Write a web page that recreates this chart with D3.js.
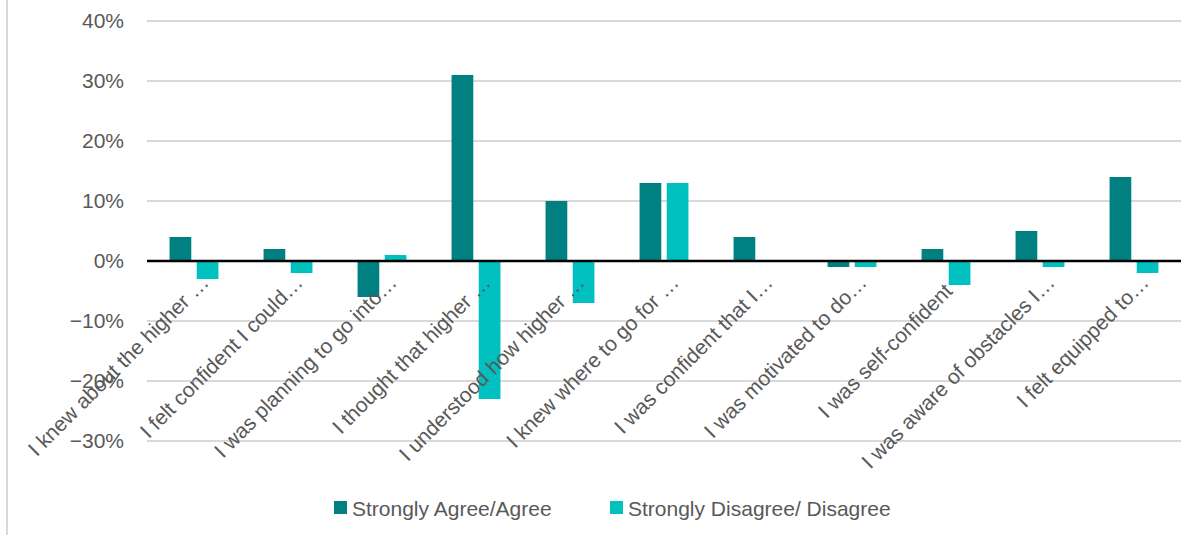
<!DOCTYPE html>
<html>
<head>
<meta charset="utf-8">
<script src="https://cdn.jsdelivr.net/npm/d3@7"></script>
<style>
    body { margin: 0; background: #fff; }
    svg { display: block; font-family: "Liberation Sans", Arial, sans-serif; }
</style>
</head>
<body>
<div id="chart"></div>
<script>
var categories = [
    "I knew about the higher \u2026",
    "I felt confident I could\u2026",
    "I was planning to go into\u2026",
    "I thought that higher \u2026",
    "I understood how higher \u2026",
    "I knew where to go for \u2026",
    "I was confident that I\u2026",
    "I was motivated to do\u2026",
    "I was self-confident\u00a0\u00a0",
    "I was aware of obstacles I\u2026",
    "I felt equipped to\u2026"
];
var seriesNames = ["Strongly Agree/Agree", "Strongly Disagree/ Disagree"];
var agreeValues = [0.04, 0.02, -0.06, 0.31, 0.10, 0.13, 0.04, -0.01, 0.02, 0.05, 0.14];
var disagreeValues = [-0.03, -0.02, 0.01, -0.23, -0.07, 0.13, 0, -0.01, -0.04, -0.01, -0.02];
var yTicks = [-0.3, -0.2, -0.1, 0, 0.1, 0.2, 0.3, 0.4];
var colors = ["#008080", "#00C0C0"];

var width = 1197, height = 535;
var textColor = "#595959";

var svg = d3.select("#chart").append("svg")
    .attr("width", width)
    .attr("height", height);

// chart border (only the left edge is visible in the crop)
svg.append("line")
    .attr("x1", 7).attr("x2", 7)
    .attr("y1", 0).attr("y2", height)
    .attr("stroke", "#d9d9d9")
    .attr("stroke-width", 2);

var x0 = d3.scaleBand()
    .domain(categories)
    .range([147, 1181])
    .padding(0);

var x1 = d3.scaleBand()
    .domain(seriesNames)
    .range([x0.bandwidth() * 0.24, x0.bandwidth() * 0.76])
    .paddingInner(0.2);

var y = d3.scaleLinear()
    .domain([-0.3, 0.4])
    .range([441, 21]);

// gridlines
svg.append("g")
    .selectAll("line")
    .data(yTicks.filter(function(d) { return d !== 0; }))
    .enter().append("line")
    .attr("x1", 147).attr("x2", 1181)
    .attr("y1", function(d) { return y(d); })
    .attr("y2", function(d) { return y(d); })
    .attr("stroke", "#d9d9d9")
    .attr("stroke-width", 2);

// y axis labels
var yAxis = d3.axisLeft(y)
    .tickValues(yTicks)
    .tickFormat(d3.format(".0%"))
    .tickSize(0)
    .tickPadding(0);

var yg = svg.append("g")
    .attr("transform", "translate(124,0)")
    .call(yAxis);
yg.select(".domain").remove();
yg.selectAll("text")
    .attr("fill", textColor)
    .style("font-size", "21px")
    .style("font-family", "'Liberation Sans', Arial, sans-serif");

// bars
var rows = categories.map(function(c, i) {
    return { cat: c, values: [agreeValues[i], disagreeValues[i]] };
});

var groups = svg.append("g")
    .selectAll("g")
    .data(rows)
    .enter().append("g")
    .attr("transform", function(d) { return "translate(" + x0(d.cat) + ",0)"; });

groups.selectAll("rect")
    .data(function(d) {
        return d.values.map(function(v, j) { return { key: seriesNames[j], value: v, idx: j }; });
    })
    .enter().append("rect")
    .attr("x", function(d) { return x1(d.key); })
    .attr("width", x1.bandwidth())
    .attr("y", function(d) { return y(Math.max(0, d.value)); })
    .attr("height", function(d) { return Math.abs(y(d.value) - y(0)); })
    .attr("fill", function(d) { return colors[d.idx]; });

// zero line
svg.append("line")
    .attr("x1", 147).attr("x2", 1181)
    .attr("y1", y(0)).attr("y2", y(0))
    .attr("stroke", "#000")
    .attr("stroke-width", 2.5);

// category labels, rotated
svg.append("g")
    .selectAll("text")
    .data(categories)
    .enter().append("text")
    .attr("transform", function(d) {
        var cx = x0(d) + x0.bandwidth() / 2 + 16;
        return "translate(" + cx + "," + (y(0) + 23) + ") rotate(-45)";
    })
    .attr("text-anchor", "end")
    .attr("fill", textColor)
    .style("font-size", "21px")
    .style("white-space", "pre")
    .text(function(d) { return d; });

// legend
var legend = svg.append("g")
    .selectAll("g")
    .data(seriesNames)
    .enter().append("g")
    .attr("transform", function(d, i) { return "translate(" + [334, 610][i] + ",0)"; });

legend.append("rect")
    .attr("x", 0).attr("y", 501)
    .attr("width", 13).attr("height", 13)
    .attr("fill", function(d, i) { return colors[i]; });

legend.append("text")
    .attr("x", 18).attr("y", 516)
    .attr("fill", textColor)
    .style("font-size", "21px")
    .text(function(d) { return d; });
</script>
</body>
</html>
